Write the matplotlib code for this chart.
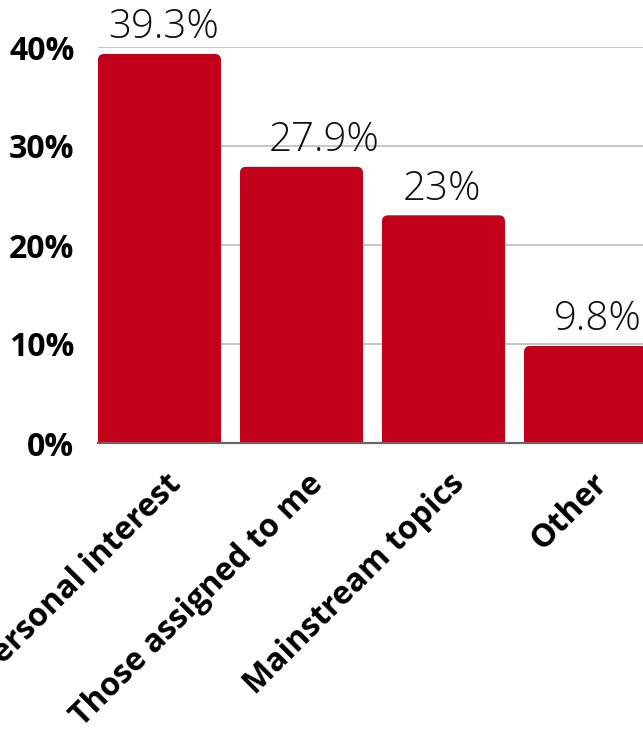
import matplotlib
matplotlib.use("Agg")
import matplotlib.pyplot as plt
import matplotlib.transforms as mtransforms
from matplotlib.patches import FancyBboxPatch, Rectangle

categories = ["Personal interest", "Those assigned to me", "Mainstream topics", "Other"]
values = [39.3, 27.9, 23.0, 9.8]
value_labels = ["39.3%", "27.9%", "23%", "9.8%"]
yticks = [0, 10, 20, 30, 40]
ytick_labels = ["0%", "10%", "20%", "30%", "40%"]

# horizontal nudges of the value labels (pixels), as in the reference
label_dx_px = [4.5, 23, -1.5, 12]

RED = "#C3001A"
plt.rcParams['font.family'] = ['Open Sans', 'DejaVu Sans']

W, H, DPI = 643, 749, 100
fig = plt.figure(figsize=(W / DPI, H / DPI), dpi=DPI)
left = 98 / W
bottom = (H - 443) / H
top = (H - 47) / H
ax = fig.add_axes([left, bottom, 1 - left, top - bottom])

width = 0.866
xmin = -width / 2
xmax = 3 + (643 - 585.5) / 142
ax.set_xlim(xmin, xmax)
ax.set_ylim(0, 40)

px_x = (xmax - xmin) / (W - 98)
px_y = 40 / (443 - 47)
r_px = 6
rx = r_px * px_x
aspect = (r_px * px_y) / rx

for i, v in enumerate(values):
    x0 = i - width / 2
    p = FancyBboxPatch((x0, 0), width, v,
                       boxstyle=f"round,pad=0,rounding_size={rx}",
                       mutation_aspect=aspect, facecolor=RED, edgecolor="none",
                       zorder=3)
    ax.add_patch(p)
    ax.add_patch(Rectangle((x0, 0), width, v / 2, facecolor=RED,
                           edgecolor="none", zorder=3))
    ax.annotate(value_labels[i], (i, v), xytext=(label_dx_px[i] * 0.72, 4),
                textcoords="offset points",
                ha="center", va="bottom", fontsize=29, fontweight="light",
                color="#111111", annotation_clip=False, zorder=4)

ax.set_yticks(yticks)
ax.set_yticklabels(ytick_labels, fontsize=23, fontweight="bold")
ax.set_xticks(range(len(categories)))
ax.set_xticklabels(categories, rotation=45, ha="right", va="center",
                   rotation_mode="anchor", fontsize=23, fontweight="bold")
ax.tick_params(axis="y", length=0, pad=17)
ax.tick_params(axis="x", length=0, pad=22)
offset = mtransforms.ScaledTranslation(12 / 72, -4 / 72, fig.dpi_scale_trans)
for lbl in ax.get_xticklabels():
    lbl.set_transform(lbl.get_transform() + offset)

ax.grid(axis="y", color="#BBBBBB", linewidth=1.2, zorder=0)
ax.set_axisbelow(True)
for s in ["top", "right", "left"]:
    ax.spines[s].set_visible(False)
ax.spines["bottom"].set_color("#666666")
ax.spines["bottom"].set_linewidth(1.6)
ax.spines["bottom"].set_zorder(5)

fig.savefig("out.png", dpi=DPI)
